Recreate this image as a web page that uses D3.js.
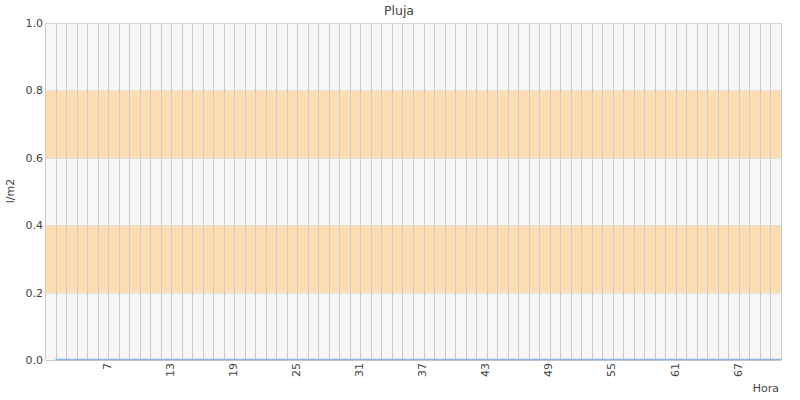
<!DOCTYPE html>
<html>
<head>
<meta charset="utf-8">
<script src="https://cdn.jsdelivr.net/npm/d3@7"></script>
<style>
  body { margin: 0; background: #fff; }
  text { font-family: "DejaVu Sans", sans-serif; fill: #444; }
</style>
</head>
<body>
<svg id="chart" width="800" height="400"></svg>
<script>
// Data
const hours = [2,3,4,5,6,7,8,9,10,11,12,13,14,15,16,17,18,19,20,21,22,23,24,25,26,27,28,29,30,31,32,33,34,35,36,37,38,39,40,41,42,43,44,45,46,47,48,49,50,51,52,53,54,55,56,57,58,59,60,61,62,63,64,65,66,67,68,69,70,71];
const rain  = [0,0,0,0,0,0,0,0,0,0,0,0,0,0,0,0,0,0,0,0,0,0,0,0,0,0,0,0,0,0,0,0,0,0,0,0,0,0,0,0,0,0,0,0,0,0,0,0,0,0,0,0,0,0,0,0,0,0,0,0,0,0,0,0,0,0,0,0,0,0];
const xDomain = [1, 71];
const xTickLabels = [7, 13, 19, 25, 31, 37, 43, 49, 55, 61, 67];
const yTicks = [0, 0.2, 0.4, 0.6, 0.8, 1.0];
const bands = [[0.2, 0.4], [0.6, 0.8]];
const gridHours = [1,2,3,4,5,6,7,8,9,10,11,12,13,14,15,16,17,18,19,20,21,22,23,24,25,26,27,28,29,30,31,32,33,34,35,36,37,38,39,40,41,42,43,44,45,46,47,48,49,50,51,52,53,54,55,56,57,58,59,60,61,62,63,64,65,66,67,68,69,70,71];

const svg = d3.select("#chart");
const L = 45, R = 781, T = 23, B = 360;
const x = d3.scaleLinear().domain(xDomain).range([L, R]);
const y = d3.scaleLinear().domain([0, 1]).range([B, T]);

// plot background
svg.append("rect").attr("x", L).attr("y", T).attr("width", R - L).attr("height", B - T).attr("fill", "#f7f7f7");

// bands
svg.selectAll("rect.band").data(bands).enter().append("rect")
  .attr("class", "band")
  .attr("x", L).attr("width", R - L)
  .attr("y", d => y(d[1])).attr("height", d => y(d[0]) - y(d[1]))
  .attr("fill", "#fcdcb0");

// horizontal band edges
svg.selectAll("line.hgrid").data(yTicks.slice(1, -1)).enter().append("line")
  .attr("x1", L).attr("x2", R)
  .attr("y1", d => Math.round(y(d)) + 0.5).attr("y2", d => Math.round(y(d)) + 0.5)
  .attr("stroke", "#e6e0d6").attr("stroke-width", 1);

// vertical grid
svg.selectAll("line.vgrid").data(gridHours).enter().append("line")
  .attr("x1", d => Math.round(x(d)) + 0.5).attr("x2", d => Math.round(x(d)) + 0.5)
  .attr("y1", T).attr("y2", B)
  .attr("stroke", "#cccccc").attr("stroke-width", 1);

// top border
svg.append("line").attr("x1", L).attr("x2", R).attr("y1", T + 0.5).attr("y2", T + 0.5)
  .attr("stroke", "#d4d4d4");
// bottom axis
svg.append("line").attr("x1", L).attr("x2", R).attr("y1", B + 0.5).attr("y2", B + 0.5)
  .attr("stroke", "#cccccc");

// y axis
const yAxis = d3.axisLeft(y).tickValues(yTicks).tickFormat(d3.format(".1f")).tickSize(0).tickPadding(2);
const gy = svg.append("g").attr("transform", `translate(${L},0)`).call(yAxis);
gy.select(".domain").remove();
gy.selectAll("text").style("font-size", "11px").attr("fill", "#444");

// x axis
const xAxis = d3.axisBottom(x).tickValues(xTickLabels).tickFormat(d3.format("d")).tickSize(0);
const gx = svg.append("g").attr("transform", `translate(0,${B})`).call(xAxis);
gx.select(".domain").remove();
gx.selectAll("text")
  .style("font-size", "11px").attr("fill", "#444")
  .attr("text-anchor", "end")
  .attr("transform", "rotate(-90)")
  .attr("x", -3).attr("y", 0).attr("dy", "0.2em");

// line
const line = d3.line().x((d, i) => x(hours[i])).y(d => Math.round(y(d)) - 0.5);
svg.append("path").datum(rain).attr("d", line)
  .attr("fill", "none").attr("stroke", "#8db4e2").attr("stroke-width", 1.5);

// titles
svg.append("text").attr("x", 399).attr("y", 15).attr("text-anchor", "middle")
  .style("font-size", "12.5px").text("Pluja");
svg.append("text").attr("x", 779).attr("y", 392).attr("text-anchor", "end")
  .style("font-size", "11px").text("Hora");
svg.append("text").attr("transform", "translate(14,191) rotate(-90)").attr("text-anchor", "middle")
  .style("font-size", "11px").text("l/m2");
</script>
</body>
</html>
